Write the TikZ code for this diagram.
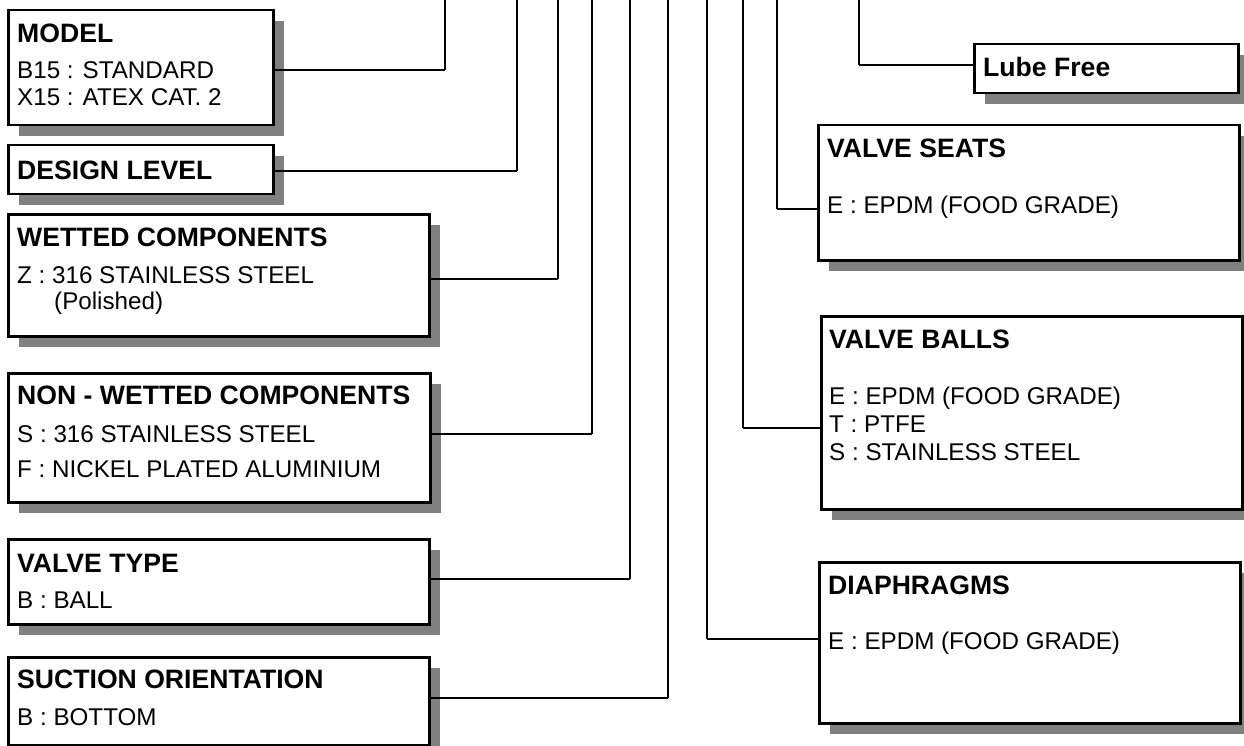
\documentclass[tikz,border=0pt]{standalone}
\usepackage{fontspec}
\setmainfont{Liberation Sans}
\usetikzlibrary{shadows}
\tikzset{
  box/.style={draw=black, line width=2.5pt, fill=white, inner sep=0pt, anchor=north west,
    drop shadow={shadow xshift=10.5pt, shadow yshift=-11pt, fill=shadowgray, opacity=1}},
  ttl/.style={anchor=base west, inner sep=0pt, font=\bfseries\fontsize{26.6}{30}\selectfont},
  bdy/.style={anchor=base west, inner sep=0pt, font=\fontsize{24.2}{27}\selectfont},
  conn/.style={draw=black, line width=2pt, line join=miter},
}
\definecolor{shadowgray}{HTML}{808080}
\newcommand{\bx}[5]{\node[box, minimum width=#4pt-#2pt, minimum height=#5pt-#3pt] (#1) at (#2,#3) {};}
\begin{document}
\begin{tikzpicture}[x=1pt,y=-1pt]
\useasboundingbox (0,0) rectangle (1244,746);
\clip (0,0) rectangle (1244,746);
% free ends at the top
\coordinate (tM) at (445,-5);
\coordinate (tD) at (517,-5);
\coordinate (tW) at (558,-5);
\coordinate (tN) at (592,-5);
\coordinate (tV) at (630,-5);
\coordinate (tS) at (668,-5);
\coordinate (tDi) at (707,-5);
\coordinate (tB) at (743,-5);
\coordinate (tSe) at (777,-5);
\coordinate (tL) at (859,-5);
% connectors (drawn first, boxes over them)
\draw[conn] (445,70) coordinate (cM) -- (tM);
\draw[conn] (517,171) coordinate (cD) -- (tD);
\draw[conn] (558,279) coordinate (cW) -- (tW);
\draw[conn] (592,434) coordinate (cN) -- (tN);
\draw[conn] (630,579) coordinate (cV) -- (tV);
\draw[conn] (668,698) coordinate (cS) -- (tS);
\draw[conn] (707,639) coordinate (cDi) -- (tDi);
\draw[conn] (743,428) coordinate (cB) -- (tB);
\draw[conn] (777,209) coordinate (cSe) -- (tSe);
\draw[conn] (859,65) coordinate (cL) -- (tL);
% boxes
\bx{model}{7}{9}{272}{124}
\bx{design}{7}{144}{272}{193}
\bx{wetted}{7}{213}{428}{335}
\bx{nonwet}{7}{372}{429}{501}
\bx{vtype}{7}{538}{428}{623}
\bx{suction}{7}{656}{428}{744}
\bx{lube}{973}{43}{1237}{92}
\bx{seats}{817}{124}{1238}{259}
\bx{balls}{820}{315}{1241}{508}
\bx{diaph}{818}{561}{1239}{722}
% horizontal connector parts
\draw[conn] (model.east |- cM) -- (cM);
\draw[conn] (design.east |- cD) -- (cD);
\draw[conn] (wetted.east |- cW) -- (cW);
\draw[conn] (nonwet.east |- cN) -- (cN);
\draw[conn] (vtype.east |- cV) -- (cV);
\draw[conn] (suction.east |- cS) -- (cS);
\draw[conn] (diaph.west |- cDi) -- (cDi);
\draw[conn] (balls.west |- cB) -- (cB);
\draw[conn] (seats.west |- cSe) -- (cSe);
\draw[conn] (lube.west |- cL) -- (cL);
% texts
\node[ttl] (model-t) at (17,43) {MODEL};
\node[bdy] (model-1) at (17,79) {B15 : STANDARD};
\node[bdy] (model-2) at (17,106) {X15 : ATEX CAT. 2};
\node[ttl] (design-t) at (17,180) {DESIGN LEVEL};
\node[ttl] (wetted-t) at (17,246) {WETTED COMPONENTS};
\node[bdy] (wetted-1) at (17,283) {Z : 316 STAINLESS STEEL};
\node[bdy] (wetted-2) at (54,309) {(Polished)};
\node[ttl] (nonwet-t) at (17,404) {NON - WETTED COMPONENTS};
\node[bdy] (nonwet-1) at (17,442) {S : 316 STAINLESS STEEL};
\node[bdy] (nonwet-2) at (17,477) {F : NICKEL PLATED ALUMINIUM};
\node[ttl] (vtype-t) at (17,572) {VALVE TYPE};
\node[bdy] (vtype-1) at (17,608) {B : BALL};
\node[ttl] (suction-t) at (17,688) {SUCTION ORIENTATION};
\node[bdy] (suction-1) at (17,725) {B : BOTTOM};
\node[ttl] (lube-t) at (983,77) {Lube Free};
\node[ttl] (seats-t) at (827,158) {VALVE SEATS};
\node[bdy] (seats-1) at (827,213) {E : EPDM (FOOD GRADE)};
\node[ttl] (balls-t) at (829,348) {VALVE BALLS};
\node[bdy] (balls-1) at (829,404) {E : EPDM (FOOD GRADE)};
\node[bdy] (balls-2) at (829,432) {T : PTFE};
\node[bdy] (balls-3) at (829,460) {S : STAINLESS STEEL};
\node[ttl] (diaph-t) at (828,594) {DIAPHRAGMS};
\node[bdy] (diaph-1) at (828,649) {E : EPDM (FOOD GRADE)};
\end{tikzpicture}
\end{document}
